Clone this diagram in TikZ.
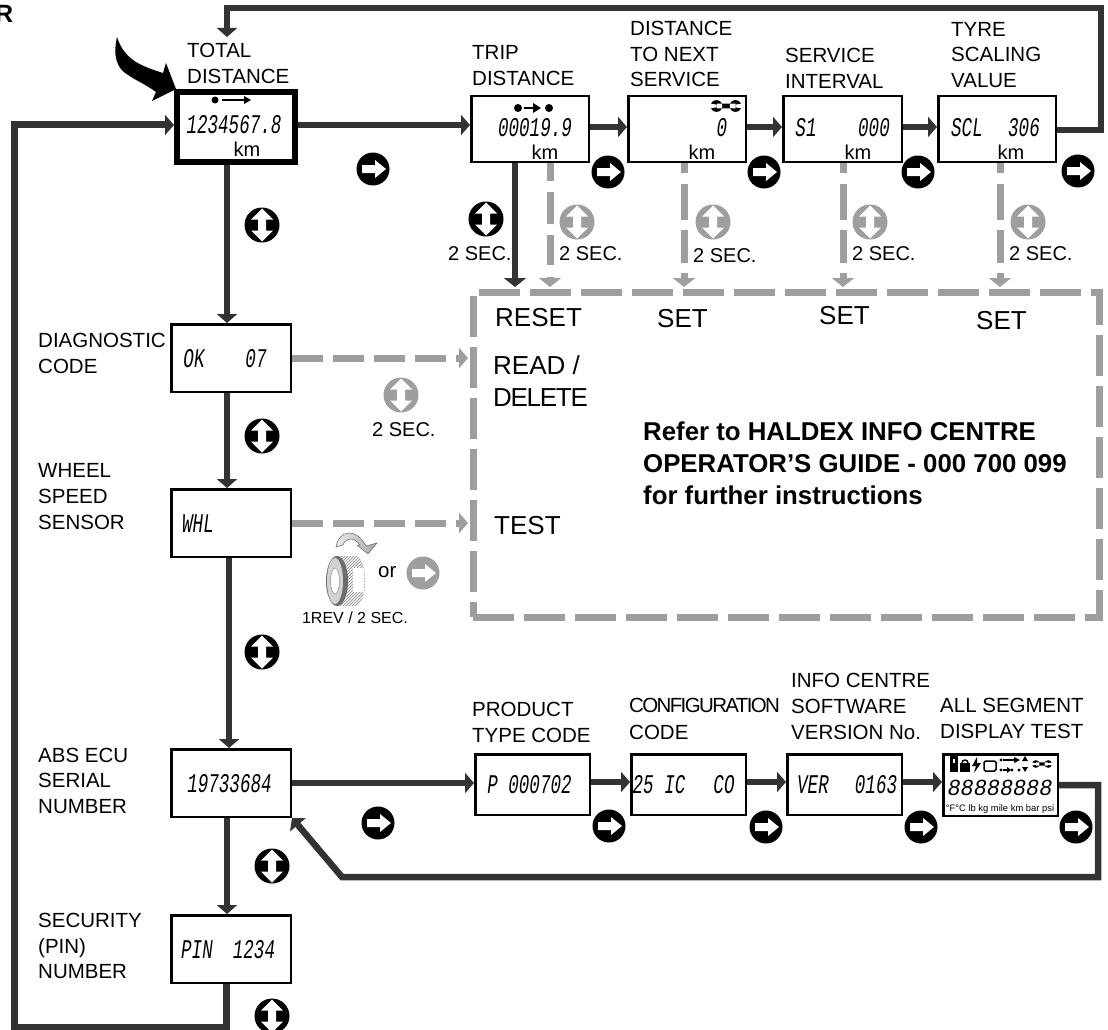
\documentclass[tikz,border=0pt]{standalone}
\usepackage{fontspec}
\setmainfont{Liberation Sans}
\newfontfamily\lcdfont{Liberation Mono}[FakeStretch=0.65]
\newfontfamily\lcdwide{Liberation Mono}[FakeStretch=0.95]
\usetikzlibrary{arrows.meta,calc,patterns}
\definecolor{dk}{HTML}{333333}
\definecolor{gr}{HTML}{9E9E9E}
\tikzset{
  x=1pt,y=-1pt,
  lab/.style={inner sep=0pt,anchor=base west,align=left,font=\fontsize{20.5}{25.5}\selectfont},
  ptext/.style={inner sep=0pt,anchor=base west,font=\fontsize{26}{26}\selectfont},
  btext/.style={inner sep=0pt,anchor=base west,font=\bfseries\fontsize{25.8}{26}\selectfont},
  sec/.style={inner sep=0pt,anchor=base west,font=\fontsize{20}{22}\selectfont},
  lcd/.style={inner sep=0pt,anchor=base,font=\lcdfont\itshape\fontsize{27}{27}\selectfont},
  unit/.style={inner sep=0pt,anchor=base,font=\fontsize{20}{20}\selectfont},
  box/.style={draw=black,line width=2.5pt,fill=white,inner sep=0pt},
  conn/.style={draw=dk,line width=6.5pt,-{Triangle[length=9pt,width=20pt]}},
  dashh/.style={draw=gr,line width=7pt,dash pattern=on 31pt off 10pt,-{Triangle[length=9pt,width=20pt]}},
  dashv/.style={draw=gr,line width=7pt,dash pattern=on 10pt off 11pt on 36pt off 10pt on 33pt off 10pt,-{Triangle[length=9pt,width=22pt]}},
  dashw/.style={draw=gr,line width=7pt,dash pattern=on 18pt off 11pt on 32pt off 11pt on 30pt off 12pt,-{Triangle[length=9pt,width=22pt]}},
  btn/.style={circle,inner sep=0pt,minimum size=33pt},
}
\newcommand{\bx}[5]{\node[box,minimum width=#4pt-2.5pt,minimum height=#5pt-2.5pt] (#1) at (#2,#3) {};}
\newcommand{\rbtn}[4]{\node[btn,fill=#4] (#1) at (#2,#3) {};
  \fill[white,shift={(#2,#3)}] (-11,-4)--(2,-4)--(2,-9)--(13,0)--(2,9)--(2,4)--(-11,4)--cycle;}
\newcommand{\ubtn}[4]{\node[btn,minimum size=35pt,fill=#4] (#1) at (#2,#3) {};
  \fill[white,shift={(#2,#3)}] (-4,-5.5)--(-11,-5.5)--(0,-16.5)--(11,-5.5)--(4,-5.5)--(4,5.5)--(11,5.5)--(0,16.5)--(-11,5.5)--(-4,5.5)--cycle;}
\newcommand{\wrench}[3]{\begin{scope}[shift={(#1,#2)},scale=#3]
  \fill (-10,0) circle (6.2) (10,0) circle (6.2) (-10,-2.6) rectangle (10,2.6);
  \fill[white] (-17,-2.6) -- (-10,-1.4) -- (-10,1.4) -- (-17,2.6) -- cycle;
  \fill[white] (17,-2.6) -- (10,-1.4) -- (10,1.4) -- (17,2.6) -- cycle;
\end{scope}}
\begin{document}
\begin{tikzpicture}
\useasboundingbox (0,0) rectangle (1108,1030);
% R clipped at the page edge
\node[inner sep=0pt,anchor=base west,font=\bfseries\fontsize{25}{25}\selectfont] (rr) at (-5,22.5) {R};
% panel
\node[draw=gr,line width=7pt,dash pattern=on 41pt off 10pt,inner sep=0pt,outer sep=0pt,minimum width=626pt,minimum height=325pt,anchor=north west] (panel) at (473,292) {};
% boxes
\node[draw=black,line width=6pt,fill=white,inner sep=0pt,minimum width=118pt,minimum height=70pt] (total) at (236,127) {};
\bx{trip}{530}{129}{120}{68}
\bx{dnext}{687}{129}{120}{68}
\bx{sint}{842.5}{129}{121}{68}
\bx{tyre}{997}{129}{120}{68}
\bx{diag}{231}{358}{122}{70}
\bx{whl}{231}{523}{122}{70}
\bx{abs}{231}{783}{122}{70}
\bx{pin}{231}{949}{122}{70}
\bx{prod}{532.5}{784.5}{117}{63}
\bx{conf}{688.5}{784.5}{117}{63}
\bx{ver}{844.5}{784.5}{117}{63}
\bx{seg}{1000.5}{785}{117}{64}
% helper coordinates
\coordinate (topl) at (227,8);
\coordinate (topr) at (1101,8);
\coordinate (totin) at (227,37);
\coordinate (botl) at (14,1027);
\coordinate (botr) at (226,1027);
\coordinate (retr) at (1098,877);
\coordinate (retm) at (342,877);
\coordinate (leftt) at (14,125);
\coordinate (rowt) at (0,127);
\coordinate (rowb) at (0,782);
\coordinate (tyrex) at (0,130);
\coordinate (wx) at (229,0);
\coordinate (rs) at (0,287);
\coordinate (v1) at (515,0);
\coordinate (v2) at (550,0);
\coordinate (v3) at (684,0);
\coordinate (v4) at (843,0);
\coordinate (v5) at (1000,0);
\coordinate (lcdtip) at (468,0);
% connectors
\draw[conn] (total.east |- leftt) -- (trip.west |- leftt);
\draw[conn] (trip.east |- rowt) -- (dnext.west |- rowt);
\draw[conn] (dnext.east |- rowt) -- (sint.west |- rowt);
\draw[conn] (sint.east |- rowt) -- (tyre.west |- rowt);
\draw[conn,line join=miter] (tyre.east |- tyrex) -| (topr) -- (topl) -- (totin);
\draw[conn,line width=7pt,line join=miter] (botr |- pin.south) -- (botr) -- (botl) -- (leftt) -- (total.west |- leftt);
\draw[conn] (topl |- total.south) -- (topl |- diag.north);
\draw[conn] (topl |- diag.south) -- (topl |- whl.north);
\draw[conn] (wx |- whl.south) -- (wx |- abs.north);
\draw[conn] (topl |- abs.south) -- (topl |- pin.north);
\draw[conn] (abs.east) -- (prod.west |- abs.east);
\draw[conn] (prod.east |- rowb) -- (conf.west |- rowb);
\draw[conn] (conf.east |- rowb) -- (ver.west |- rowb);
\draw[conn] (ver.east |- rowb) -- (seg.west |- rowb);
\draw[conn,line join=miter] (seg.east) -| (retr) -- (retm) -- (abs.south east);
\draw[conn,-{Triangle[length=9pt,width=22pt]}] (v1 |- trip.south) -- (v1 |- rs);
\draw[dashw] (v2 |- trip.south) -- (v2 |- rs);
\draw[dashv] (v3 |- dnext.south) -- (v3 |- rs);
\draw[dashv] (v4 |- sint.south) -- (v4 |- rs);
\draw[dashv] (v5 |- tyre.south) -- (v5 |- rs);
\draw[dashh] (diag.east) -- (lcdtip |- diag.east);
\draw[dashh] (whl.east) -- (lcdtip |- whl.east);
% labels
\node[lab] (ltotal) at (187,58) {TOTAL};
\node[lab] (ltotal2) at (187,84) {DISTANCE};
\node[lab] (l1) at (472,60) {TRIP};
\node[lab] (l2) at (472,86) {DISTANCE};
\node[lab] (l3) at (630,36) {DISTANCE};
\node[lab] (l4) at (630,62) {TO NEXT};
\node[lab] (l5) at (630,87) {SERVICE};
\node[lab] (l6) at (785,63) {SERVICE};
\node[lab] (l7) at (785,89) {INTERVAL};
\node[lab] (l8) at (951,37) {TYRE};
\node[lab] (l9) at (951,62) {SCALING};
\node[lab] (l10) at (951,88) {VALUE};
\node[lab] (l11) at (38,347) {DIAGNOSTIC};
\node[lab] (l12) at (38,373) {CODE};
\node[lab] (l13) at (38,477) {WHEEL};
\node[lab] (l14) at (38,503) {SPEED};
\node[lab] (l15) at (38,529) {SENSOR};
\node[lab] (l16) at (38,762) {ABS ECU};
\node[lab] (l17) at (38,787) {SERIAL};
\node[lab] (l18) at (38,813) {NUMBER};
\node[lab] (l19) at (38,927) {SECURITY};
\node[lab] (l20) at (38,953) {(PIN)};
\node[lab] (l21) at (38,978) {NUMBER};
\node[lab] (l22) at (472,716) {PRODUCT};
\node[lab] (l23) at (472,742) {TYPE CODE};
\node[lab] (l24) at (629,712) {\addfontfeature{LetterSpace=-8}CONFIGURATION};
\node[lab] (l25) at (629,739) {CODE};
\node[lab] (l26) at (791,687) {INFO CENTRE};
\node[lab] (l27) at (791,713) {SOFTWARE};
\node[lab] (l28) at (791,739) {VERSION No.};
\node[lab] (l29) at (940,712) {ALL SEGMENT};
\node[lab] (l30) at (940,738) {DISPLAY TEST};
% panel text
\node[ptext] (p1) at (495,326) {RESET};
\node[ptext] (p2) at (657,327) {SET};
\node[ptext] (p3) at (819,324) {SET};
\node[ptext] (p4) at (976,329) {SET};
\node[ptext] (p5) at (493,374) {READ /};
\node[ptext] (p6) at (493,406) {\addfontfeature{LetterSpace=-5}DELETE};
\node[ptext] (p7) at (494,534) {TEST};
\node[btext] (r1) at (643,440) {Refer to HALDEX INFO CENTRE};
\node[btext] (r2) at (643,472) {OPERATOR'S GUIDE - 000 700 099};
\node[btext] (r3) at (643,504) {for further instructions};
% lcd text
\node[lcd] (d1) at (234,134) {1234567.8};
\node[unit] (u1) at (247,157) {km};
\node[lcd] (d2) at (535,136) {00019.9};
\node[unit] (u2) at (545,159) {km};
\node[lcd] (d3) at (722,136) {0};
\node[unit] (u3) at (702,159) {km};
\node[lcd] (d4) at (806,136) {S1};
\node[lcd] (d4b) at (874,136) {000};
\node[unit] (u4) at (858,159) {km};
\node[lcd] (d5) at (967,136) {SCL};
\node[lcd] (d5b) at (1024,136) {306};
\node[unit] (u5) at (1011,159) {km};
\node[lcd] (d6) at (194,367) {OK};
\node[lcd] (d6b) at (256,367) {07};
\node[lcd] (d7) at (198,532) {WHL};
\node[lcd] (d8) at (229.5,792) {19733684};
\node[lcd] (d9) at (197,958) {PIN};
\node[lcd] (d9b) at (254,958) {1234};
\node[lcd] (d10) at (529.5,793) {P 000702};
\node[lcd] (d11) at (659,793) {25 IC};
\node[lcd] (d11b) at (724,793) {CO};
\node[lcd] (d12) at (813,793) {VER};
\node[lcd] (d12b) at (876,793) {0163};
\node[lcd,font=\lcdwide\itshape\fontsize{23}{23}\selectfont] (d13) at (1000,795) {88888888};
\node[inner sep=0pt,anchor=base,font=\fontsize{9.4}{12}\selectfont] (d14) at (1000,811) {°F°C lb kg mile km bar psi};
% lcd icons
\fill (215,100) circle (3.5pt);
\draw[line width=2pt] (222,100) -- (245,100);
\fill (244,96) -- (251,100) -- (244,104) -- cycle;
\fill (518,108) circle (4pt) (549,108) circle (4pt);
\draw[line width=2pt] (524,108) -- (535,108);
\fill (533,103) -- (541,108) -- (533,113) -- cycle;
\wrench{726}{106}{0.95}
\wrench{1042}{764}{0.62}
\fill (950,755) rectangle (958,772);
\fill[white] (953,759) rectangle (955,763);
\fill (960,763) rectangle (970,772);
\draw[line width=1.5pt] (962,763) arc (180:360:3);
\fill (977,757) -- (972,766) -- (976,766) -- (974,773) -- (981,763) -- (977,763) -- cycle;
\draw[line width=1.5pt,rounded corners=1.5pt] (984,761) rectangle (996,771);
\fill (1001,760) circle (1.6pt) (1001,770) circle (1.6pt) (1012,770) circle (1.6pt) (1019,770) circle (1.6pt);
\draw[line width=1.3pt] (1003,760) -- (1016,760) (1003,770) -- (1008,770);
\fill (1014,757) -- (1020,760) -- (1014,763) -- cycle (1007,767) -- (1011,770) -- (1007,773) -- cycle;
\fill (1025,756) -- (1028,761) -- (1022,761) -- cycle (1025,772) -- (1028,767) -- (1022,767) -- cycle;
% entry arrow
\fill (117,37) .. controls (113,55) and (116,68) .. (128,75) .. controls (135,80) and (145,84) .. (156,92) -- (152,101) -- (176,89) -- (166,63) -- (163,73) .. controls (145,67) and (125,62) .. (117,37) -- cycle;
% buttons
\rbtn{b1}{373}{169}{black}
\rbtn{b2}{608}{172}{black}
\rbtn{b3}{764}{172}{black}
\rbtn{b4}{918}{172}{black}
\rbtn{b5}{1078}{171}{black}
\rbtn{b6}{378}{823}{black}
\rbtn{b7}{609}{826}{black}
\rbtn{b8}{766}{827}{black}
\rbtn{b9}{921}{827}{black}
\rbtn{b10}{1076}{827}{black}
\rbtn{b11}{423}{573}{gr}
\ubtn{c1}{262}{225}{black}
\ubtn{c2}{262}{436}{black}
\ubtn{c3}{262}{652}{black}
\ubtn{c4}{272}{866}{black}
\ubtn{c5}{272}{1016}{black}
\ubtn{c6}{486}{219}{black}
\ubtn{c7}{577}{222}{gr}
\ubtn{c8}{713}{222}{gr}
\ubtn{c9}{870}{222}{gr}
\ubtn{c10}{1028}{222}{gr}
\ubtn{c11}{401}{395}{gr}
% 2 SEC
\node[sec] (s1) at (448,260) {2 SEC.};
\node[sec] (s2) at (559,260) {2 SEC.};
\node[sec] (s3) at (693,262) {2 SEC.};
\node[sec] (s4) at (852,260) {2 SEC.};
\node[sec] (s5) at (1009,260) {2 SEC.};
\node[sec] (s6) at (372,436) {2 SEC.};
\node[lab] (orr) at (378,577) {or};
\node[inner sep=0pt,anchor=base,font=\fontsize{16}{18}\selectfont] (rev) at (355,623) {1REV / 2 SEC.};
% tyre icon
\fill[gray!15] (337,556) -- (357,556) .. controls (368,562) and (368,600) .. (357,606) -- (337,606) -- cycle;
\fill[pattern=north east lines,pattern color=gray!80] (337,556) -- (357,556) .. controls (368,562) and (368,600) .. (357,606) -- (337,606) -- cycle;
\fill[white] (353,568) rectangle (364,592);
\fill[gray!85!black] (337,581) ellipse (11 and 25);
\fill[gray!35] (335,581) ellipse (8 and 23);
\fill[white,draw=gray!70,line width=.7pt] (335,581) ellipse (4.5 and 13);
\shade[left color=gray!15,right color=gray!70,draw=gray!80!black,line width=.5pt] (336,547) .. controls (339,530) and (356,527) .. (366,546) -- (377,543) -- (368,554) -- (357,545) -- (360,545) .. controls (354,537) and (346,537) .. (343,545) -- cycle;
\end{tikzpicture}
\end{document}
